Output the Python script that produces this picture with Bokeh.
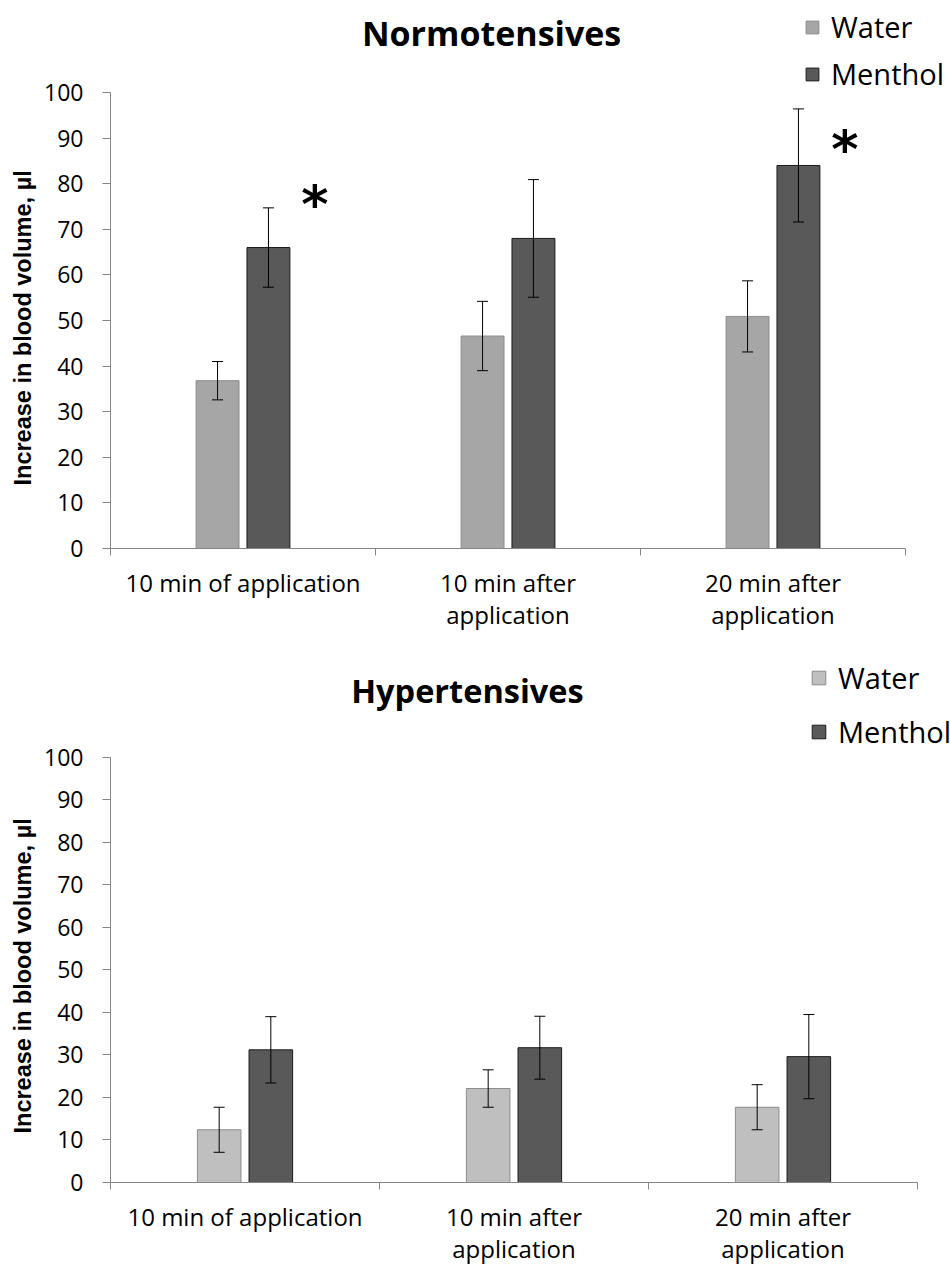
import numpy as np
from bokeh.plotting import figure
from bokeh.layouts import column
from bokeh.models import (ColumnDataSource, Whisker, FixedTicker, Legend, LegendItem,
                          Label, TeeHead, Range1d, Title)
from bokeh.core.properties import value
from bokeh.embed import file_html
from bokeh.resources import INLINE

# ---------------- data ----------------
periods = ["10 min of application", "10 min after\napplication", "20 min after\napplication"]
series = ["Water", "Menthol"]
y_title = "Increase in blood volume, µl"

norm_water = [36.8, 46.6, 50.9]
norm_water_err = [4.2, 7.6, 7.8]
norm_menthol = [66.0, 68.0, 84.0]
norm_menthol_err = [8.7, 12.9, 12.4]
norm_star_period = [0, 2]
norm_star_y = [75.6, 87.7]

hyp_water = [12.4, 22.1, 17.7]
hyp_water_err = [5.3, 4.4, 5.3]
hyp_menthol = [31.2, 31.7, 29.6]
hyp_menthol_err = [7.8, 7.4, 9.9]
hyp_star_period = []
hyp_star_y = []

y_ticks = list(range(0, 101, 10))

FONT = "Open Sans"
AXIS_GRAY = "#868686"


def make_chart(title, water, water_err, menthol, menthol_err, star_period, star_y,
               water_fill, height, b_bottom, x_end, y_end,
               title_xy, title_size, legend_loc, legend_spacing, glyph_size, ylab_offset):
    n = len(periods)
    idx = np.arange(n)
    off = 0.096
    bw = 0.162

    p = figure(width=950, height=height, title=None,
               x_range=Range1d(0, x_end), y_range=Range1d(0, y_end),
               output_backend="svg", toolbar_location=None,
               min_border_left=110, min_border_right=0,
               min_border_top=0, min_border_bottom=b_bottom)
    p.outline_line_color = None
    p.xgrid.visible = False
    p.ygrid.visible = False
    p.background_fill_color = "white"
    p.border_fill_color = "white"

    wsrc = ColumnDataSource(dict(x=idx + 0.5 - off, top=water,
                                 upper=np.array(water) + np.array(water_err),
                                 lower=np.array(water) - np.array(water_err)))
    msrc = ColumnDataSource(dict(x=idx + 0.5 + off, top=menthol,
                                 upper=np.array(menthol) + np.array(menthol_err),
                                 lower=np.array(menthol) - np.array(menthol_err)))

    rw = p.vbar(x="x", top="top", bottom=0, width=bw, source=wsrc,
                fill_color=water_fill, line_color="#8C8C8C", line_width=1)
    rm = p.vbar(x="x", top="top", bottom=0, width=bw, source=msrc,
                fill_color="#595959", line_color="#1A1A1A", line_width=1)

    for src in (wsrc, msrc):
        w = Whisker(base="x", upper="upper", lower="lower", source=src,
                    line_color="black", line_width=1, level="annotation",
                    upper_head=TeeHead(size=11, line_color="black", line_width=1),
                    lower_head=TeeHead(size=11, line_color="black", line_width=1))
        p.add_layout(w)

    if star_period:
        ssrc = ColumnDataSource(dict(x=np.array(star_period) + 0.5 + off + 0.175,
                                     y=star_y, t=["*"] * len(star_y)))
        p.text(x="x", y="y", text="t", source=ssrc, text_align="center",
               text_baseline="middle", text_font=value("DejaVu Sans"),
               text_font_style="bold", text_font_size="52px", text_color="black")

    # y axis
    ya = p.yaxis[0]
    ya.ticker = FixedTicker(ticks=y_ticks, minor_ticks=[])
    ya.bounds = (0, 100)
    ya.axis_line_color = AXIS_GRAY
    ya.major_tick_line_color = AXIS_GRAY
    ya.major_tick_out = 8
    ya.major_tick_in = 0
    ya.major_label_text_font = FONT
    ya.major_label_text_font_size = "23px"
    ya.major_label_text_color = "black"
    ya.major_label_standoff = 19

    # y axis title, placed along the 0-100 axis (the frame is taller than the axis)
    yt = Title(text=y_title, align="left", offset=ylab_offset,
               text_font="Liberation Sans", text_font_style="bold",
               text_font_size="23.5px", text_color="black")
    if "standoff" in Title.properties():
        yt.standoff = 11
    p.add_layout(yt, "left")

    # x axis: labels at category centres, tick marks at boundaries
    xa = p.xaxis[0]
    xa.ticker = FixedTicker(ticks=list(idx + 0.5), minor_ticks=list(range(n + 1)))
    xa.bounds = (0, n)
    xa.major_label_overrides = {float(i + 0.5): periods[i] for i in range(n)}
    xa.axis_line_color = AXIS_GRAY
    xa.major_tick_out = 0
    xa.major_tick_in = 0
    xa.minor_tick_line_color = AXIS_GRAY
    xa.minor_tick_out = 7
    xa.minor_tick_in = 0
    xa.major_label_text_font = FONT
    xa.major_label_text_font_size = "24px"
    xa.major_label_text_color = "black"
    xa.major_label_text_line_height = 0.97
    xa.major_label_standoff = 10

    # chart title
    p.add_layout(Label(x=title_xy[0], y=title_xy[1], text=title,
                       text_font=FONT, text_font_style="bold", text_font_size=title_size,
                       text_align="center", text_baseline="middle", text_color="black"))

    legend = Legend(items=[LegendItem(label=series[0], renderers=[rw]),
                           LegendItem(label=series[1], renderers=[rm])],
                    location=legend_loc, orientation="vertical",
                    border_line_color=None, background_fill_alpha=0,
                    label_text_font=FONT, label_text_font_size="29px",
                    label_text_color="black", glyph_width=glyph_size, glyph_height=glyph_size,
                    label_standoff=11, spacing=legend_spacing, padding=0, margin=0,
                    label_height=30)
    p.add_layout(legend)
    return p


# top chart: frame 110..950 px (265 px per period), 0 at y=548, 4.56 px per unit
p1 = make_chart("Normotensives", norm_water, norm_water_err, norm_menthol, norm_menthol_err,
                norm_star_period, norm_star_y, "#A6A6A6",
                height=634, b_bottom=86, x_end=840 / 265, y_end=100 + 92 / 4.56,
                title_xy=(1.438, 112.95), title_size="34px",
                legend_loc=(694, 455), legend_spacing=8, glyph_size=16, ylab_offset=63)

# bottom chart: 269 px per period, frame 549 px tall, 4.26 px per unit
p2 = make_chart("Hypertensives", hyp_water, hyp_water_err, hyp_menthol, hyp_menthol_err,
                hyp_star_period, hyp_star_y, "#BFBFBF",
                height=633, b_bottom=84, x_end=840 / 269, y_end=549 / 4.26,
                title_xy=(1.327, 115.7), title_size="32.5px",
                legend_loc=(700, 431), legend_spacing=15, glyph_size=17, ylab_offset=49)

layout = column(p1, p2, spacing=0)
open("out.html", "w").write(file_html(layout, INLINE))
